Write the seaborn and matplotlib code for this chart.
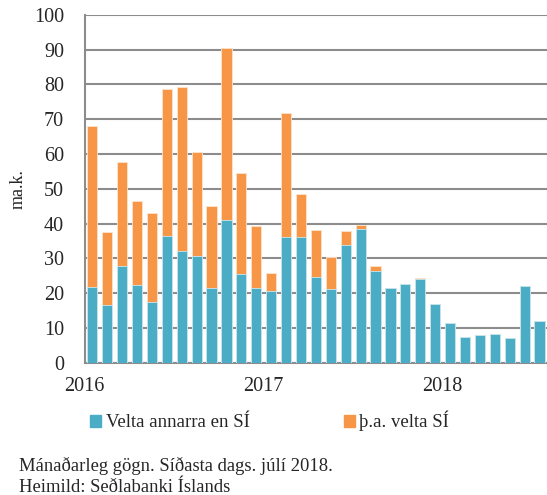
import numpy as np
import pandas as pd
import seaborn as sns
import matplotlib.pyplot as plt
from matplotlib.patches import Patch

# Monthly turnover, Jan 2016 - Jul 2018 (ma.k.)
months = pd.date_range("2016-01-01", "2018-07-01", freq="MS").strftime("%Y-%m").tolist()
velta_annarra = [21.7, 16.7, 27.8, 22.4, 17.5, 36.4, 32.0, 30.6, 21.4, 41.0, 25.5, 21.5,
                 20.6, 36.2, 36.2, 24.6, 21.1, 33.8, 38.6, 26.5, 21.5, 22.7, 24.0, 17.0,
                 11.5, 7.3, 7.9, 8.4, 7.2, 22.1, 12.0]
velta_si = [46.4, 20.9, 29.8, 24.0, 25.6, 42.4, 47.3, 30.1, 23.7, 49.6, 29.0, 17.9,
            5.3, 35.7, 12.3, 13.7, 9.2, 4.2, 1.1, 1.2, 0.0, 0.0, 0.5, 0.0,
            0.0, 0.0, 0.0, 0.0, 0.0, 0.0, 0.0]
year_labels = ["2016", "2017", "2018"]

label_blue = "Velta annarra en SÍ"
label_orange = "þ.a. velta SÍ"
blue = "#4BACC6"
orange = "#F79646"

df = pd.DataFrame({"month": months, "annarra": velta_annarra, "si": velta_si})
df["total"] = df["annarra"] + df["si"]

sns.set_style("white")
plt.rcParams["font.family"] = ["Liberation Serif", "DejaVu Serif"]
plt.rcParams["font.size"] = 13.5

fig = plt.figure(figsize=(5.47, 4.95), dpi=100)
ax = fig.add_axes([0.155, 0.267, 0.845, 0.703])

# stacked: total in orange, the blue part on top of it
sns.barplot(data=df, x="month", y="total", color=orange, saturation=1,
            width=0.68, edgecolor="#fde3cc", linewidth=0.6, ax=ax, zorder=3)
sns.barplot(data=df, x="month", y="annarra", color=blue, saturation=1,
            width=0.68, edgecolor="#c9e8f0", linewidth=0.6, ax=ax, zorder=4)

ax.set_xlim(-0.5, len(months) - 0.5)
ax.set_ylim(0, 100)
ax.set_yticks(np.arange(0, 101, 10))
ax.set_xticks([-0.5, 11.5, 23.5])
ax.set_xticklabels(year_labels)
ax.set_xlabel("")
ax.set_ylabel("ma.k.", labelpad=5, fontsize=13)

ax.grid(axis="y", color="#8c8c8c", linewidth=1.5, zorder=0)
ax.set_axisbelow(True)
for side in ["top", "right"]:
    ax.spines[side].set_visible(False)
for side in ["left", "bottom"]:
    ax.spines[side].set_color("#8c8c8c")
    ax.spines[side].set_linewidth(1.5)
ax.tick_params(axis="both", length=6, width=1.5, color="#8c8c8c", labelsize=14.5)
ax.tick_params(axis="y", pad=9)
ax.tick_params(axis="x", pad=4)

handles = [Patch(color=blue, label=label_blue), Patch(color=orange, label=label_orange)]
fig.legend(handles=handles, loc="center", bbox_to_anchor=(0.493, 0.149), ncol=2,
           frameon=False, handlelength=0.6, handleheight=0.6, handletextpad=0.25,
           columnspacing=5.0, fontsize=13.5)

fig.text(0.035, 0.048, "Mánaðarleg gögn. Síðasta dags. júlí 2018.", fontsize=13.4)
fig.text(0.035, 0.007, "Heimild: Seðlabanki Íslands", fontsize=13.4)

fig.savefig("out.png", dpi=100)
